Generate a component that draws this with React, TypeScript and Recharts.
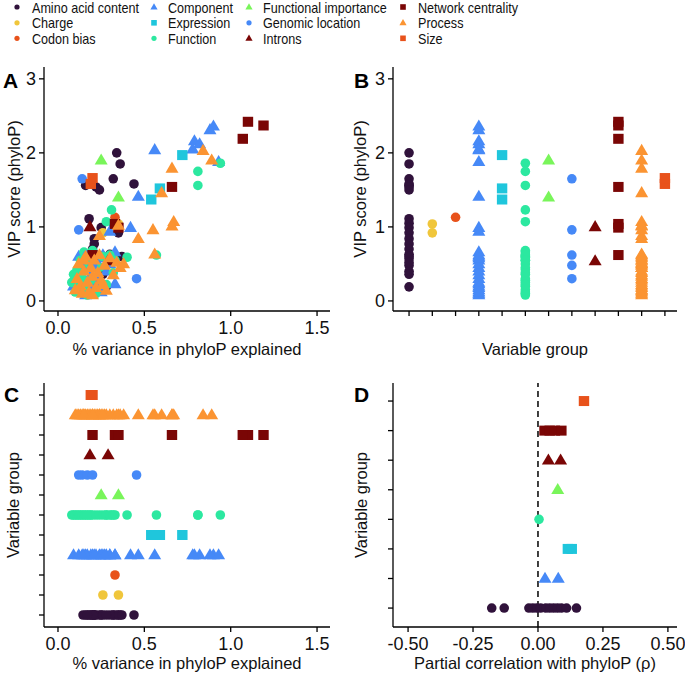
import React from 'react';
import { ScatterChart, Scatter, XAxis, YAxis, ReferenceLine } from 'recharts';

type Pair = [number, number]; // [% variance explained, VIP score]

const aminoAcidContent: Pair[] = [
  [0.34, 2.0], [0.36, 1.85], [0.32, 1.65], [0.44, 1.58], [0.16, 1.56], [0.22, 1.54], [0.24, 1.5],
  [0.18, 1.11], [0.32, 1.05], [0.25, 0.99], [0.35, 0.92], [0.21, 0.84], [0.21, 0.77], [0.2, 0.7],
  [0.3, 0.63], [0.19, 0.57], [0.2, 0.48], [0.145, 0.4], [0.26, 0.36], [0.28, 0.19], [0.37, 0.6], [0.17, 0.52],
];
const charge: Pair[] = [[0.35, 1.04], [0.26, 0.92]];
const codonBias: Pair[] = [[0.33, 1.13]];
const component: Pair[] = [
  [0.9, 2.36], [0.88, 2.31], [0.79, 2.16], [0.82, 2.12], [0.78, 2.05], [0.56, 2.04], [0.93, 1.88],
  [0.465, 1.41], [0.42, 0.99], [0.3, 0.94], [0.33, 0.66], [0.33, 0.23], [0.09, 0.2], [0.12, 0.6],
  [0.15, 0.45], [0.17, 0.1], [0.19, 0.35], [0.2, 0.15], [0.22, 0.55], [0.24, 0.3], [0.26, 0.62],
  [0.28, 0.4], [0.3, 0.5], [0.16, 0.08], [0.21, 0.25], [0.14, 0.18], [0.25, 0.12], [0.27, 0.58],
];
const expression: Pair[] = [[0.72, 1.97], [0.59, 1.52], [0.54, 1.37]];
const functionVars: Pair[] = [
  [0.94, 1.86], [0.81, 1.75], [0.81, 1.56], [0.31, 1.23], [0.28, 1.07], [0.4, 0.59], [0.57, 0.62],
  [0.08, 0.25], [0.09, 0.36], [0.1, 0.12], [0.11, 0.42], [0.12, 0.2], [0.13, 0.55], [0.14, 0.3],
  [0.15, 0.66], [0.16, 0.15], [0.18, 0.5], [0.19, 0.28], [0.2, 0.68], [0.22, 0.1], [0.24, 0.45],
  [0.26, 0.6], [0.28, 0.22], [0.3, 0.62], [0.32, 0.38], [0.33, 0.55], [0.17, 0.08],
];
const functionalImportance: Pair[] = [[0.25, 1.9], [0.35, 1.4]];
const genomicLocation: Pair[] = [[0.14, 1.65], [0.12, 0.96], [0.17, 0.62], [0.2, 0.48], [0.455, 0.3]];
const introns: Pair[] = [[0.185, 1.0], [0.29, 0.54]];
const networkCentrality: Pair[] = [
  [1.1, 2.42], [1.19, 2.37], [1.07, 2.19], [0.66, 1.54], [0.33, 1.04], [0.35, 0.99], [0.2, 0.62],
];
const processVars: Pair[] = [
  [0.84, 2.03], [0.89, 1.9], [0.66, 1.79], [0.6, 1.46], [0.67, 1.07], [0.66, 1.01], [0.55, 0.96],
  [0.35, 1.02], [0.24, 0.88], [0.465, 0.84], [0.56, 0.63], [0.1, 0.15], [0.11, 0.3], [0.12, 0.5],
  [0.13, 0.2], [0.14, 0.1], [0.15, 0.4], [0.16, 0.6], [0.17, 0.25], [0.18, 0.12], [0.19, 0.45],
  [0.2, 0.33], [0.21, 0.55], [0.22, 0.18], [0.23, 0.38], [0.24, 0.62], [0.25, 0.28], [0.27, 0.48],
  [0.28, 0.14], [0.3, 0.58], [0.32, 0.35], [0.34, 0.52], [0.36, 0.45], [0.38, 0.5], [0.26, 0.22],
  [0.15, 0.55], [0.2, 0.08],
];
const sizeVars: Pair[] = [[0.19, 1.58], [0.2, 1.66]];

const groupNames = [
  'Amino acid content', 'Charge', 'Codon bias', 'Component', 'Expression', 'Function',
  'Functional importance', 'Genomic location', 'Introns', 'Network centrality', 'Process', 'Size',
];
const groupShapes = [
  'circle', 'circle', 'circle', 'triangle', 'square', 'circle',
  'triangle', 'circle', 'triangle', 'square', 'triangle', 'square',
];
const groupColors = [
  '#30123b', '#f0c63b', '#e8521b', '#4689f7', '#1fc6dc', '#2ce8a0',
  '#79f55a', '#4689f7', '#7a0605', '#7a0605', '#fb9432', '#e8521b',
];
const groupValues: Pair[][] = [
  aminoAcidContent, charge, codonBias, component, expression, functionVars,
  functionalImportance, genomicLocation, introns, networkCentrality, processVars, sizeVars,
];

// Partial correlation with phyloP (rho)
const rhoAminoAcid = [-0.178, -0.13, -0.035, -0.02, -0.005, 0.01, 0.03, 0.045, 0.06, 0.075, 0.09, 0.11, 0.148];
const rhoComponent = [0.027, 0.078];
const rhoExpression = [0.115, 0.13];
const rhoFunction = [0.004];
const rhoFunctionalImportance = [0.076];
const rhoIntrons = [0.04, 0.087];
const rhoNetwork = [0.025, 0.045, 0.065, 0.09];
const rhoSize = [0.177];
const partialGroups = [
  'Amino acid content', 'Component', 'Expression', 'Function', 'Functional importance',
  'Introns', 'Network centrality', 'Size',
];
const partialValues = [
  rhoAminoAcid, rhoComponent, rhoExpression, rhoFunction, rhoFunctionalImportance,
  rhoIntrons, rhoNetwork, rhoSize,
];

const varianceTicks = [0, 0.5, 1, 1.5];
const vipTicks = [0, 1, 2, 3];
const rhoTicks = [-0.5, -0.25, 0, 0.25, 0.5];
const groupTicks = groupNames.map((_, i) => i);
const partialTicks = partialGroups.map((_, i) => i);

const TEXT = '#111';

const Marker = ({ cx, cy, kind, color }: any) => {
  if (typeof cx !== 'number' || typeof cy !== 'number' || isNaN(cx) || isNaN(cy)) return <g />;
  if (kind === 'circle') return <circle cx={cx} cy={cy} r={4.8} fill={color} />;
  if (kind === 'square') return <rect x={cx - 5.2} y={cy - 5} width={10.4} height={10} fill={color} />;
  return (
    <polygon
      points={`${cx - 6.5},${cy + 4.3} ${cx + 6.5},${cy + 4.3} ${cx},${cy - 6.8}`}
      fill={color}
    />
  );
};

const shapeFor = (kind: string, color: string) => (p: any) => (
  <Marker cx={p.cx} cy={p.cy} kind={kind} color={color} />
);

const yTitle = (text: string, dx: number) => (props: any) => {
  const vb = (props && props.viewBox) || {};
  const x = (vb.x ?? 0) + dx;
  const y = (vb.y ?? 0) + (vb.height ?? 0) / 2;
  return (
    <text
      x={x}
      y={y}
      transform={`rotate(-90 ${x} ${y})`}
      textAnchor="middle"
      dominantBaseline="central"
      fontSize={16.5}
      fill={TEXT}
    >
      {text}
    </text>
  );
};

const axisLine = { stroke: '#000', strokeWidth: 1.3 };
const tickLine = { stroke: '#000', strokeWidth: 1.3 };
const tickStyle = { fontSize: 18, fill: TEXT };
const noLabel = () => '';

const PanelA = () => (
  <ScatterChart width={340} height={300} margin={{ top: 7, right: 10, bottom: 0, left: 0 }}>
    <XAxis
      type="number" dataKey="x" domain={[-0.081, 1.575]} ticks={varianceTicks} interval={0}
      tickFormatter={(v: number) => v.toFixed(1)} height={49} tickSize={5} tickMargin={5}
      axisLine={axisLine} tickLine={tickLine} tick={tickStyle}
      label={{ value: '% variance in phyloP explained', position: 'insideBottom', offset: 5, fontSize: 16.5, fill: TEXT }}
    />
    <YAxis
      type="number" dataKey="y" domain={[-0.136, 3.16]} ticks={vipTicks} interval={0} width={44}
      tickSize={5} tickMargin={3} axisLine={axisLine} tickLine={tickLine} tick={tickStyle}
      label={{ content: yTitle('VIP score (phyloP)', 14) }}
    />
    {groupValues.map((vals, g) => (
      <Scatter
        key={groupNames[g]} name={groupNames[g]} data={vals.map(([v, p]) => ({ x: v, y: p }))}
        shape={shapeFor(groupShapes[g], groupColors[g])} isAnimationActive={false}
      />
    ))}
  </ScatterChart>
);

const PanelB = () => (
  <ScatterChart width={340} height={300} margin={{ top: 7, right: 3, bottom: 0, left: 0 }}>
    <XAxis
      type="number" dataKey="x" domain={[-0.69, 11.52]} ticks={groupTicks} interval={0}
      tickFormatter={noLabel} height={49} tickSize={5} tickMargin={5}
      axisLine={axisLine} tickLine={tickLine} tick={tickStyle}
      label={{ value: 'Variable group', position: 'insideBottom', offset: 5, fontSize: 16.5, fill: TEXT }}
    />
    <YAxis
      type="number" dataKey="y" domain={[-0.136, 3.16]} ticks={vipTicks} interval={0} width={53}
      tickSize={5} tickMargin={3} axisLine={axisLine} tickLine={tickLine} tick={tickStyle}
      label={{ content: yTitle('VIP score (phyloP)', 20) }}
    />
    {groupValues.map((vals, g) => (
      <Scatter
        key={groupNames[g]} name={groupNames[g]} data={vals.map(([, p]) => ({ x: g, y: p }))}
        shape={shapeFor(groupShapes[g], groupColors[g])} isAnimationActive={false}
      />
    ))}
  </ScatterChart>
);

const PanelC = () => (
  <ScatterChart width={340} height={307} margin={{ top: 13, right: 10, bottom: 0, left: 0 }}>
    <XAxis
      type="number" dataKey="x" domain={[-0.081, 1.575]} ticks={varianceTicks} interval={0}
      tickFormatter={(v: number) => v.toFixed(1)} height={50} tickSize={5} tickMargin={5}
      axisLine={axisLine} tickLine={tickLine} tick={tickStyle}
      label={{ value: '% variance in phyloP explained', position: 'insideBottom', offset: 8, fontSize: 16.5, fill: TEXT }}
    />
    <YAxis
      type="number" dataKey="y" domain={[-0.6, 11.6]} ticks={groupTicks} interval={0} width={44}
      tickFormatter={noLabel} tickSize={5} tickMargin={3} axisLine={axisLine} tickLine={tickLine} tick={tickStyle}
      label={{ content: yTitle('Variable group', 13) }}
    />
    {groupValues.map((vals, g) => (
      <Scatter
        key={groupNames[g]} name={groupNames[g]} data={vals.map(([v]) => ({ x: v, y: g }))}
        shape={shapeFor(groupShapes[g], groupColors[g])} isAnimationActive={false}
      />
    ))}
  </ScatterChart>
);

const PanelD = () => (
  <ScatterChart width={345} height={307} margin={{ top: 13, right: 8, bottom: 0, left: 0 }}>
    <XAxis
      type="number" dataKey="x" domain={[-0.558, 0.535]} ticks={rhoTicks} interval={0}
      tickFormatter={(v: number) => v.toFixed(2)} height={50} tickSize={5} tickMargin={5}
      axisLine={axisLine} tickLine={tickLine} tick={tickStyle}
      label={{ value: 'Partial correlation with phyloP (\u03c1)', position: 'insideBottom', offset: 8, fontSize: 16.5, fill: TEXT }}
    />
    <YAxis
      type="number" dataKey="y" domain={[-0.64, 7.61]} ticks={partialTicks} interval={0} width={53}
      tickFormatter={noLabel} tickSize={5} tickMargin={3} axisLine={axisLine} tickLine={tickLine} tick={tickStyle}
      label={{ content: yTitle('Variable group', 21) }}
    />
    <ReferenceLine x={0} stroke="#000" strokeWidth={1.5} strokeDasharray="6 4" />
    {partialValues.map((vals, i) => {
      const g = groupNames.indexOf(partialGroups[i]);
      return (
        <Scatter
          key={partialGroups[i]} name={partialGroups[i]} data={vals.map((r) => ({ x: r, y: i }))}
          shape={shapeFor(groupShapes[g], groupColors[g])} isAnimationActive={false}
        />
      );
    })}
  </ScatterChart>
);

const legendCols = [
  { mx: 17, tx: 32 },
  { mx: 154, tx: 168 },
  { mx: 249, tx: 263 },
  { mx: 403, tx: 418 },
];
const legendMarkerRows = [7, 22.8, 38.3];
const legendTextBaselines = [12.8, 28.4, 43.9];

const LegendMarker = ({ x, y, kind, color }: any) => {
  if (kind === 'circle') return <circle cx={x} cy={y} r={2.6} fill={color} />;
  if (kind === 'square') return <rect x={x - 2.8} y={y - 2.8} width={5.6} height={5.6} fill={color} />;
  return <polygon points={`${x - 3.6},${y + 2.4} ${x + 3.6},${y + 2.4} ${x},${y - 3.8}`} fill={color} />;
};

export default function App() {
  return (
    <div
      style={{
        position: 'absolute', left: 0, top: 0, width: 685, height: 677, background: '#fff',
        fontFamily: '"Liberation Sans", Arial, Helvetica, sans-serif', overflow: 'hidden',
      }}
    >
      <div style={{ position: 'absolute', left: 0, top: 60 }}><PanelA /></div>
      <div style={{ position: 'absolute', left: 340, top: 60 }}><PanelB /></div>
      <div style={{ position: 'absolute', left: 0, top: 370 }}><PanelC /></div>
      <div style={{ position: 'absolute', left: 340, top: 370 }}><PanelD /></div>
      <svg
        width={685} height={677}
        style={{ position: 'absolute', left: 0, top: 0, pointerEvents: 'none' }}
      >
        {groupNames.map((name, g) => {
          const col = legendCols[Math.floor(g / 3)];
          const r = g % 3;
          return (
            <g key={name}>
              <LegendMarker x={col.mx} y={legendMarkerRows[r]} kind={groupShapes[g]} color={groupColors[g]} />
              <text
                transform={`translate(${col.tx},${legendTextBaselines[r]}) scale(0.9,1)`}
                fontSize={14} fill={TEXT}
              >
                {name}
              </text>
            </g>
          );
        })}
        <text x={3} y={88} fontSize={21} fontWeight="bold" fill="#000">A</text>
        <text x={354} y={88} fontSize={21} fontWeight="bold" fill="#000">B</text>
        <text x={4} y={402} fontSize={21} fontWeight="bold" fill="#000">C</text>
        <text x={354} y={402} fontSize={21} fontWeight="bold" fill="#000">D</text>
      </svg>
    </div>
  );
}
